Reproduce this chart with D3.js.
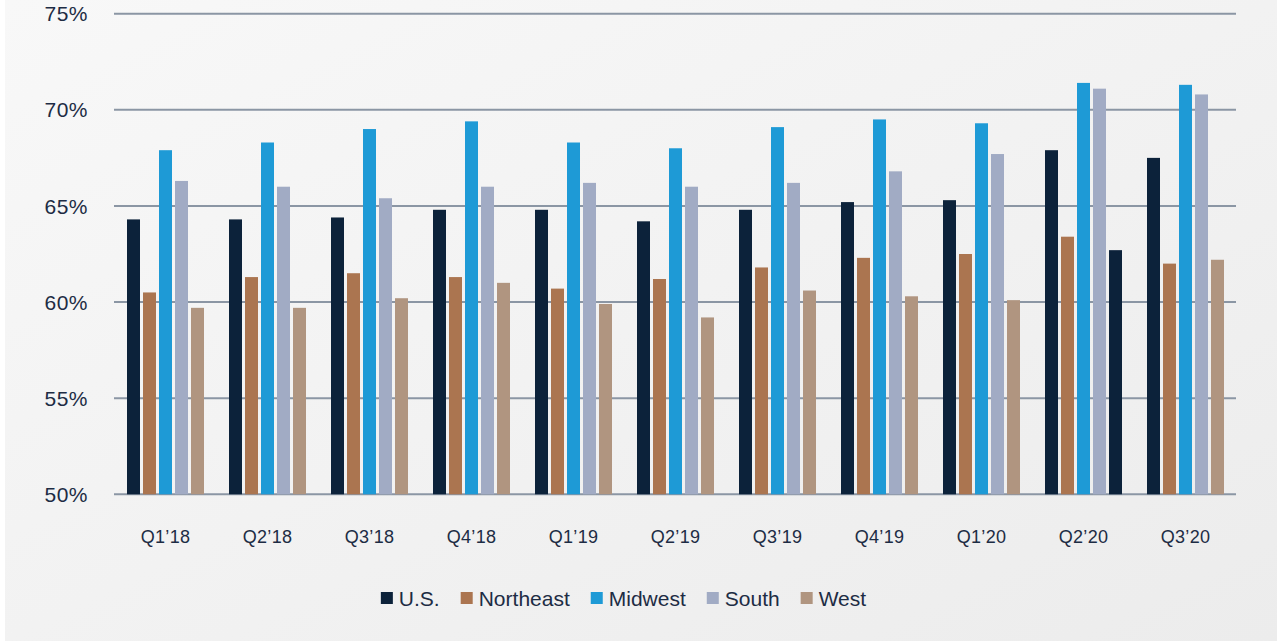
<!DOCTYPE html>
<html>
<head>
<meta charset="utf-8">
<script src="https://cdn.jsdelivr.net/npm/d3@7"></script>
<style>
  html, body { margin: 0; padding: 0; background: #ffffff; }
  svg { display: block; font-family: "Liberation Sans", "DejaVu Sans", Arial, sans-serif; }
</style>
</head>
<body>
<svg id="chart" width="1282" height="642"></svg>
<script>
// Quarterly rates by region (%)
const quarters = ["Q1\u201918", "Q2\u201918", "Q3\u201918", "Q4\u201918", "Q1\u201919", "Q2\u201919",
                  "Q3\u201919", "Q4\u201919", "Q1\u201920", "Q2\u201920", "Q3\u201920"];
const seriesNames = ["U.S.", "Northeast", "Midwest", "South", "West"];
const usValues        = [64.3, 64.3, 64.4, 64.8, 64.8, 64.2, 64.8, 65.2, 65.3, 67.9, 67.5];
const northeastValues = [60.5, 61.3, 61.5, 61.3, 60.7, 61.2, 61.8, 62.3, 62.5, 63.4, 62.0];
const midwestValues   = [67.9, 68.3, 69.0, 69.4, 68.3, 68.0, 69.1, 69.5, 69.3, 71.4, 71.3];
const southValues     = [66.3, 66.0, 65.4, 66.0, 66.2, 66.0, 66.2, 66.8, 67.7, 71.1, 70.8];
const westValues      = [59.7, 59.7, 60.2, 61.0, 59.9, 59.2, 60.6, 60.3, 60.1, 62.7, 62.2];
const yTicks = [50, 55, 60, 65, 70, 75];

const seriesValues = [usValues, northeastValues, midwestValues, southValues, westValues];
const colors = ["#0c223a", "#ab7550", "#1e9ad6", "#a1abc4", "#b09580"];
// the West bar for Q2'20 is drawn in the U.S. colour
const barColorOverrides = [{ quarter: "Q2\u201920", series: "West", color: "#0c223a" }];

const textColor = "#1d2c44";
const svg = d3.select("#chart");

// background panel with a soft gradient
const defs = svg.append("defs");
const grad = defs.append("linearGradient").attr("id", "bg")
  .attr("x1", "0%").attr("y1", "0%").attr("x2", "100%").attr("y2", "100%");
grad.append("stop").attr("offset", "0%").attr("stop-color", "#f8f8f8");
grad.append("stop").attr("offset", "100%").attr("stop-color", "#ececec");
svg.append("rect").attr("x", 5).attr("y", 0).attr("width", 1272).attr("height", 641)
  .attr("fill", "url(#bg)");

const left = 114, right = 1236;
const x = d3.scaleBand().domain(quarters).range([left, right]).padding(0);
const groupWidth = 77;
const xs = d3.scaleBand().domain(seriesNames).range([0, groupWidth]).paddingInner(3 / 16).paddingOuter(0);
const y = d3.scaleLinear().domain([50, 75]).range([494.3, 13.7]);

// gridlines
svg.append("g").selectAll("line").data(yTicks).join("line")
  .attr("x1", left).attr("x2", right)
  .attr("y1", d => y(d)).attr("y2", d => y(d))
  .attr("stroke", "#8b96a4").attr("stroke-width", 2);

// y tick labels
svg.append("g").selectAll("text").data(yTicks).join("text")
  .attr("x", 88).attr("y", d => y(d))
  .attr("dy", "0.36em")
  .attr("text-anchor", "end")
  .attr("fill", textColor)
  .attr("font-size", 21)
  .attr("letter-spacing", 0.5)
  .text(d => d + "%");

// bars
const rows = [];
quarters.forEach((q, qi) => {
  seriesNames.forEach((s, si) => {
    const o = barColorOverrides.find(c => c.quarter === q && c.series === s);
    rows.push({ q, s, v: seriesValues[si][qi], color: o ? o.color : colors[si] });
  });
});
const groupOffset = Math.ceil((x.bandwidth() - groupWidth) / 2);
svg.append("g").selectAll("rect").data(rows).join("rect")
  .attr("x", d => x(d.q) + groupOffset + xs(d.s))
  .attr("y", d => y(d.v))
  .attr("width", xs.bandwidth())
  .attr("height", d => y(50) - y(d.v))
  .attr("fill", d => d.color);

// x axis labels
svg.append("g").selectAll("text").data(quarters).join("text")
  .attr("x", d => x(d) + groupOffset + groupWidth / 2)
  .attr("y", 537).attr("dy", "0.36em")
  .attr("text-anchor", "middle")
  .attr("fill", textColor)
  .attr("font-size", 18)
  .attr("letter-spacing", 0.3)
  .text(d => d);

// legend
const legend = svg.append("g");
const items = legend.selectAll("g").data(seriesNames).join("g");
items.append("rect").attr("width", 12).attr("height", 12).attr("y", -6)
  .attr("fill", (d, i) => colors[i]);
items.append("text").attr("x", 18).attr("dy", "0.36em")
  .attr("fill", textColor).attr("font-size", 21).text(d => d);
let cx = 0;
items.each(function () {
  const g = d3.select(this);
  g.attr("transform", `translate(${cx},0)`);
  cx += 18 + g.select("text").node().getComputedTextLength() + 21;
});
const legendWidth = cx - 21;
legend.attr("transform", `translate(${623.5 - legendWidth / 2},598)`);
</script>
</body>
</html>
